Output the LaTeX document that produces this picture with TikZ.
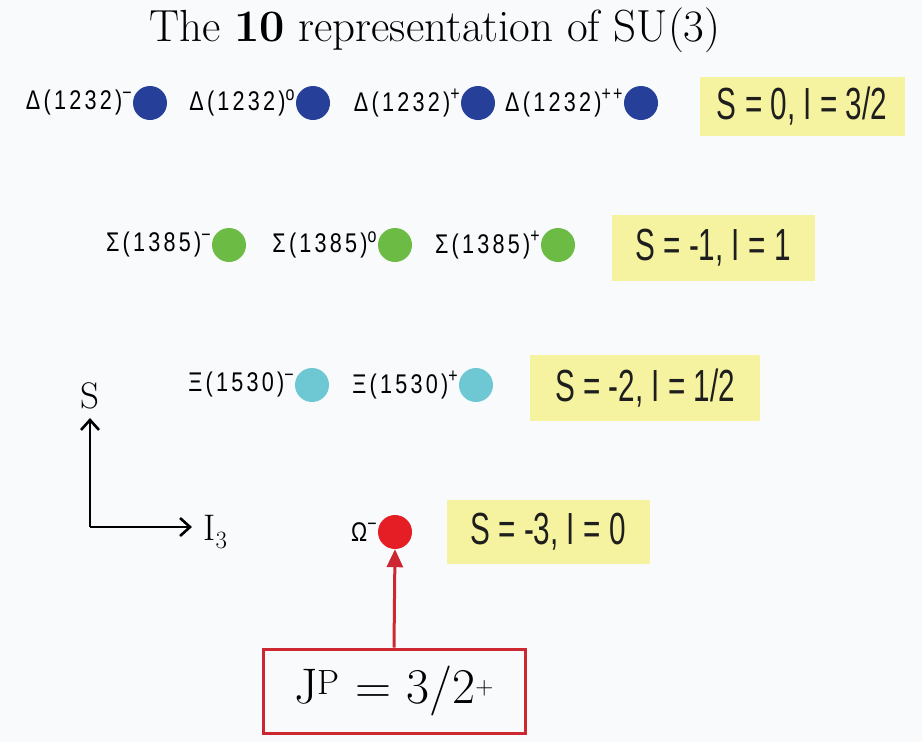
\documentclass[tikz,border=0pt]{standalone}
\usepackage{fontspec}
\newfontfamily\labf[FakeStretch=0.8,LetterSpace=12]{Liberation Sans}
\newfontfamily\boxf[FakeStretch=0.66]{Liberation Sans}
\usetikzlibrary{arrows.meta}
\definecolor{bg}{RGB}{248,250,252}
\definecolor{dblue}{RGB}{38,64,154}
\definecolor{dgreen}{RGB}{108,187,69}
\definecolor{dcyan}{RGB}{110,200,212}
\definecolor{dred}{RGB}{228,30,36}
\definecolor{ybox}{RGB}{245,243,160}
\definecolor{redline}{RGB}{205,40,50}
\definecolor{boxtext}{RGB}{30,30,30}
\newcommand{\sups}[1]{\raisebox{0.4em}{\fontsize{20}{20}\selectfont #1}}
\tikzset{
  dot/.style={circle, minimum size=34pt, inner sep=0pt, fill=#1},
  partlabel/.style={anchor=east, inner sep=1pt, font=\labf\fontsize{27}{30}\selectfont},
  quantbox/.style={fill=ybox, inner sep=0pt, text=boxtext, font=\boxf\fontsize{45}{50}\selectfont},
  axis/.style={line width=2.6pt, -{Straight Barb[length=10pt,width=18pt,line width=2.6pt]}},
}
\begin{document}
\begin{tikzpicture}[x=1pt,y=-1pt]
\fill[bg] (0,0) rectangle (922,742);
\useasboundingbox (0,0) rectangle (922,742);

\node[font=\fontsize{45}{50}\selectfont] (title) at (435,30) {The \textbf{10} representation of SU(3)};

% row 1
\node[dot=dblue] (d1) at (150,103) {};
\node[dot=dblue] (d2) at (313,103) {};
\node[dot=dblue] (d3) at (478,103) {};
\node[dot=dblue] (d4) at (641,103) {};
\node[partlabel] (ld1) at (d1.west) {Δ(1232)\sups{−}};
\node[partlabel] (ld2) at (d2.west) {Δ(1232)\sups{o}};
\node[partlabel] (ld3) at (d3.west) {Δ(1232)\sups{+}};
\node[partlabel] (ld4) at (d4.west) {Δ(1232)\sups{++}};
\node[quantbox, minimum width=205pt, minimum height=59pt] (b1) at (802,106) {S = 0, I = 3/2};

% row 2
\node[dot=dgreen] (s1) at (229,245) {};
\node[dot=dgreen] (s2) at (395,245) {};
\node[dot=dgreen] (s3) at (558,245) {};
\node[partlabel] (ls1) at (s1.west) {Σ(1385)\sups{−}};
\node[partlabel] (ls2) at (s2.west) {Σ(1385)\sups{o}};
\node[partlabel] (ls3) at (s3.west) {Σ(1385)\sups{+}};
\node[quantbox, minimum width=203pt, minimum height=66pt] (b2) at (713,248) {S = -1, I = 1};

% row 3
\node[dot=dcyan] (x1) at (312,385) {};
\node[dot=dcyan] (x2) at (476,385) {};
\node[partlabel] (lx1) at (x1.west) {Ξ(1530)\sups{−}};
\node[partlabel] (lx2) at (x2.west) {Ξ(1530)\sups{+}};
\node[quantbox, minimum width=230pt, minimum height=66pt] (b3) at (645,388) {S = -2, I = 1/2};

% row 4
\node[dot=dred] (o1) at (395,532) {};
\node[partlabel] (lo1) at (o1.west) {Ω\sups{−}};
\node[quantbox, minimum width=203pt, minimum height=64pt] (b4) at (548,532) {S = -3, I = 0};

% axes
\coordinate (corner) at (90,527);
\coordinate (stip) at (90,418);
\coordinate (itip) at (192,527);
\draw[axis] (corner) -- (stip);
\draw[axis] (corner) -- (itip);
\node[font=\fontsize{37}{40}\selectfont] (slab) at (90,396) {S};
\node[font=\fontsize{37}{40}\selectfont, anchor=west] (ilab) at (200,532) {I$_3$};

% J^P box
\node[draw=redline, line width=3pt, minimum width=262pt, minimum height=84pt, inner sep=0pt, font=\fontsize{50}{56}\selectfont] (jp) at (394,691) {J$^{\mathrm{P}}$ = 3/2$^{+}$};
\draw[redline, line width=3pt, -{Triangle[length=18pt,width=16pt]}] (jp.north) -- (o1.south);
\end{tikzpicture}
\end{document}
